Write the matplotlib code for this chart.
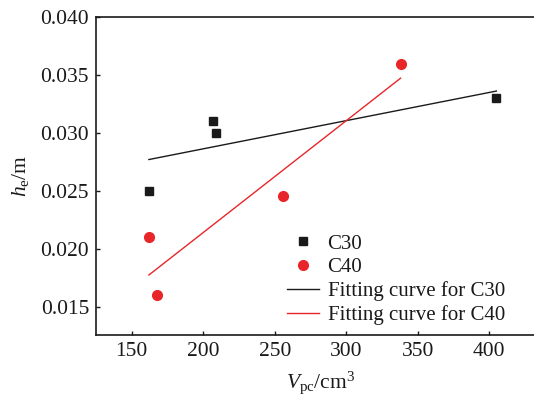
import numpy as np
import matplotlib
matplotlib.use("Agg")
import matplotlib.pyplot as plt

plt.rcParams['font.family'] = ['Liberation Serif', 'DejaVu Serif']
plt.rcParams['mathtext.fontset'] = 'custom'
plt.rcParams['mathtext.rm'] = 'Liberation Serif'
plt.rcParams['mathtext.it'] = 'Liberation Serif:italic'

c30_x = [162, 207, 209, 405]
c30_y = [0.025, 0.031, 0.030, 0.033]
c40_x = [162, 168, 256, 338]
c40_y = [0.021, 0.016, 0.0246, 0.036]
xticks = [150, 200, 250, 300, 350, 400]
yticks = [0.015, 0.020, 0.025, 0.030, 0.035, 0.040]

black = '#1a1a1a'
red = '#e8262a'
fs = 15.5

fig = plt.figure(figsize=(5.34, 3.96), dpi=100)
ax = fig.add_axes([96/534, 1-335/396, (545-96)/534, (335-17.3)/396])

ax.plot(c30_x, c30_y, 's', color=black, ms=6, label='C30', zorder=3)
ax.plot(c40_x, c40_y, 'o', color=red, ms=7, label='C40', zorder=3)

for xs, ys, col, lab in [(c30_x, c30_y, black, 'Fitting curve for C30'),
                         (c40_x, c40_y, red, 'Fitting curve for C40')]:
    k, b = np.polyfit(xs, ys, 1)
    xx = np.array([min(xs), max(xs)])
    ax.plot(xx, k*xx + b, '-', color=col, lw=1.0, label=lab)

ax.set_xlim(125, 439)
ax.set_ylim(0.01255, 0.040)
ax.set_xticks(xticks)
ax.set_yticks(yticks)
ax.set_yticklabels([f'{v:.3f}' for v in yticks])
ax.tick_params(direction='in', length=3, width=1, labelsize=fs, colors=black, pad=5)
for s in ax.spines.values():
    s.set_linewidth(1.2)
    s.set_color(black)

ax.set_xlabel(r'$\mathit{V}_{\mathrm{pc}}$/cm$^{3}$', fontsize=fs, color=black, labelpad=6)
ax.set_ylabel(r'$\mathit{h}_{\mathrm{e}}$/m', fontsize=fs, color=black, labelpad=7)

leg = fig.legend(*ax.get_legend_handles_labels(), loc='upper left',
                 bbox_to_anchor=(287/534, 1-234/396), frameon=False,
                 fontsize=15, handlelength=1.55, handletextpad=0.4,
                 labelspacing=0.2, borderaxespad=0, borderpad=0)
for t in leg.get_texts():
    t.set_color(black)

fig.savefig('out.png', dpi=100)
